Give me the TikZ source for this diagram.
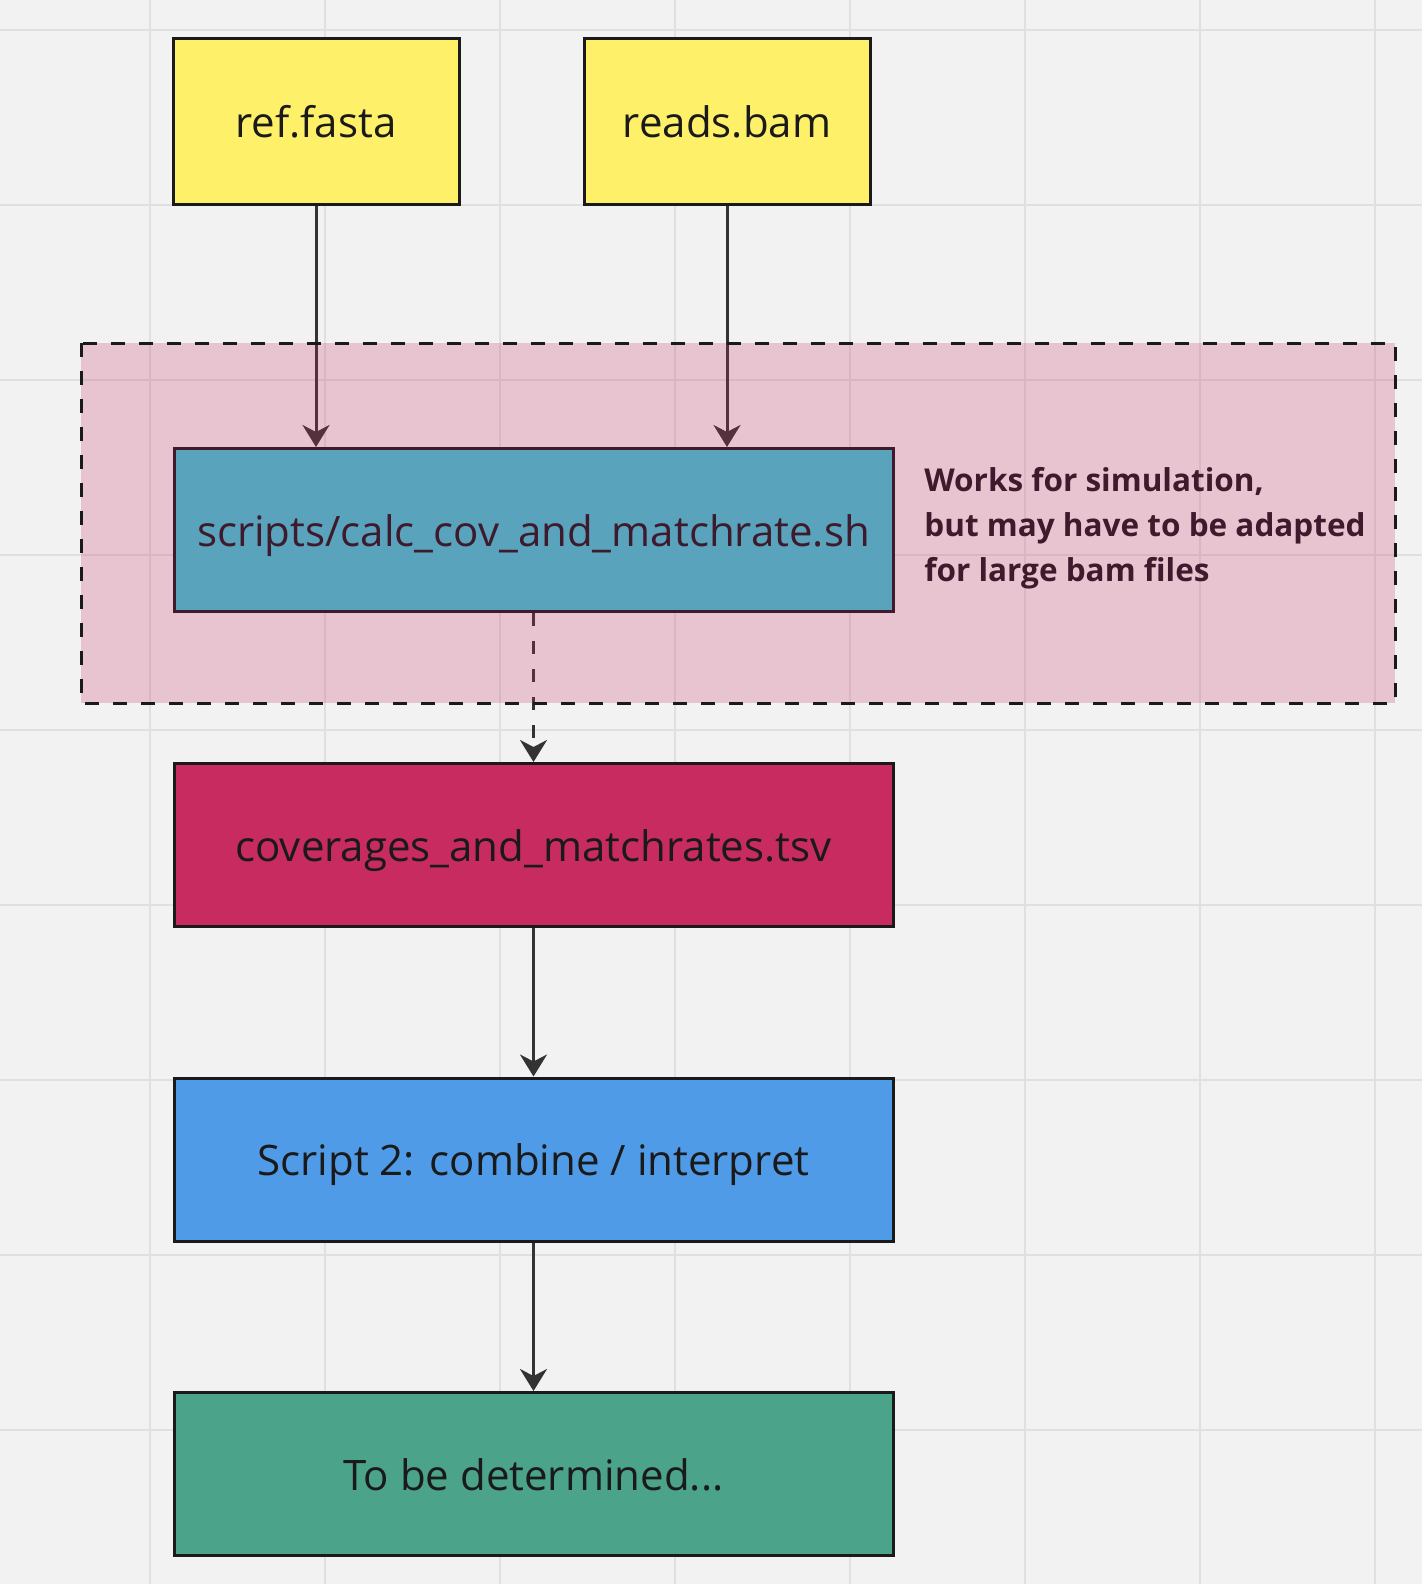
\documentclass[tikz,border=0pt]{standalone}
\usepackage{fontspec}
\setmainfont{Open Sans}
\usetikzlibrary{positioning,arrows.meta}
\definecolor{PaperGrey}{HTML}{F2F2F2}
\definecolor{GridGrey}{HTML}{E0E0E0}
\definecolor{LineBlack}{HTML}{1A1A1A}
\definecolor{ArrowGrey}{HTML}{333333}
\definecolor{FileYellow}{HTML}{FFF06A}
\definecolor{ScriptTeal}{HTML}{5AA3BC}
\definecolor{TableCrimson}{HTML}{C72B60}
\definecolor{ScriptBlue}{HTML}{4F9BE8}
\definecolor{OpenGreen}{HTML}{4BA38A}
\definecolor{NotePurple}{HTML}{3D1A2C}
\pgfdeclarelayer{tint}
\pgfdeclarelayer{top}
\pgfsetlayers{main,tint,top}
\tikzset{
  filebox/.style={draw=LineBlack, line width=1.5pt, minimum width=143pt,
    minimum height=83pt, inner sep=0pt, text=LineBlack,
    text height=16pt, text depth=0pt,
    font=\fontsize{21}{25}\selectfont},
  stepbox/.style={filebox, minimum width=359.5pt, minimum height=81.5pt},
  flow/.style={ArrowGrey, line width=1.5pt,
    -{Stealth[length=11pt,width=13.5pt,inset=3.5pt]}},
  groupframe/.style={fill=TableCrimson, fill opacity=0.23, draw=LineBlack,
    line width=1.5pt, dash pattern=on 7pt off 7pt},
}

\begin{document}
\begin{tikzpicture}[x=0.5pt,y=-0.5pt]
  \useasboundingbox[fill=PaperGrey] (0,0) rectangle (1422,1584);
  \foreach \x in {150,325,...,1375} {
    \draw[GridGrey, line width=1pt] (\x,0) -- (\x,1584);
  }
  \foreach \y in {30,205,...,1430} {
    \draw[GridGrey, line width=1pt] (0,\y) -- (1422,\y);
  }

  \node[filebox, fill=FileYellow] (ref) at (316,121.5) {ref.fasta};
  \node[filebox, fill=FileYellow] (reads) at (727,121.5) {reads.bam};

  \begin{pgfonlayer}{top}
    \node[stepbox, fill=ScriptTeal, draw=NotePurple, text=NotePurple] (calc)
      at (533.5,530) {scripts/calc\_cov\_and\_matchrate.sh};
    \node[anchor=west, align=left, inner sep=0pt, text=NotePurple,
      font=\bfseries\fontsize{15.75}{22.5}\selectfont] (note) at (924,528)
      {Works for simulation,\\but may have to be adapted\\for large bam files};
  \end{pgfonlayer}

  \node[stepbox, fill=TableCrimson] (cov) at (533.5,845) {coverages\_and\_matchrates.tsv};
  \node[stepbox, fill=ScriptBlue] (combine) at (533.5,1159.5) {Script 2: combine / interpret};
  \node[stepbox, fill=OpenGreen] (tbd) at (533.5,1474) {To be determined...};

  \draw[flow] (ref.south) -- (ref.south |- calc.north);
  \draw[flow] (reads.south) -- (reads.south |- calc.north);
  \draw[flow, dash pattern=on 6.5pt off 7.5pt] (calc.south) -- (cov.north);
  \draw[flow] (cov.south) -- (combine.north);
  \draw[flow] (combine.south) -- (tbd.north);

  \begin{pgfonlayer}{tint}
    \draw[groupframe] (81,343) rectangle (1395,703);
  \end{pgfonlayer}
\end{tikzpicture}
\end{document}
